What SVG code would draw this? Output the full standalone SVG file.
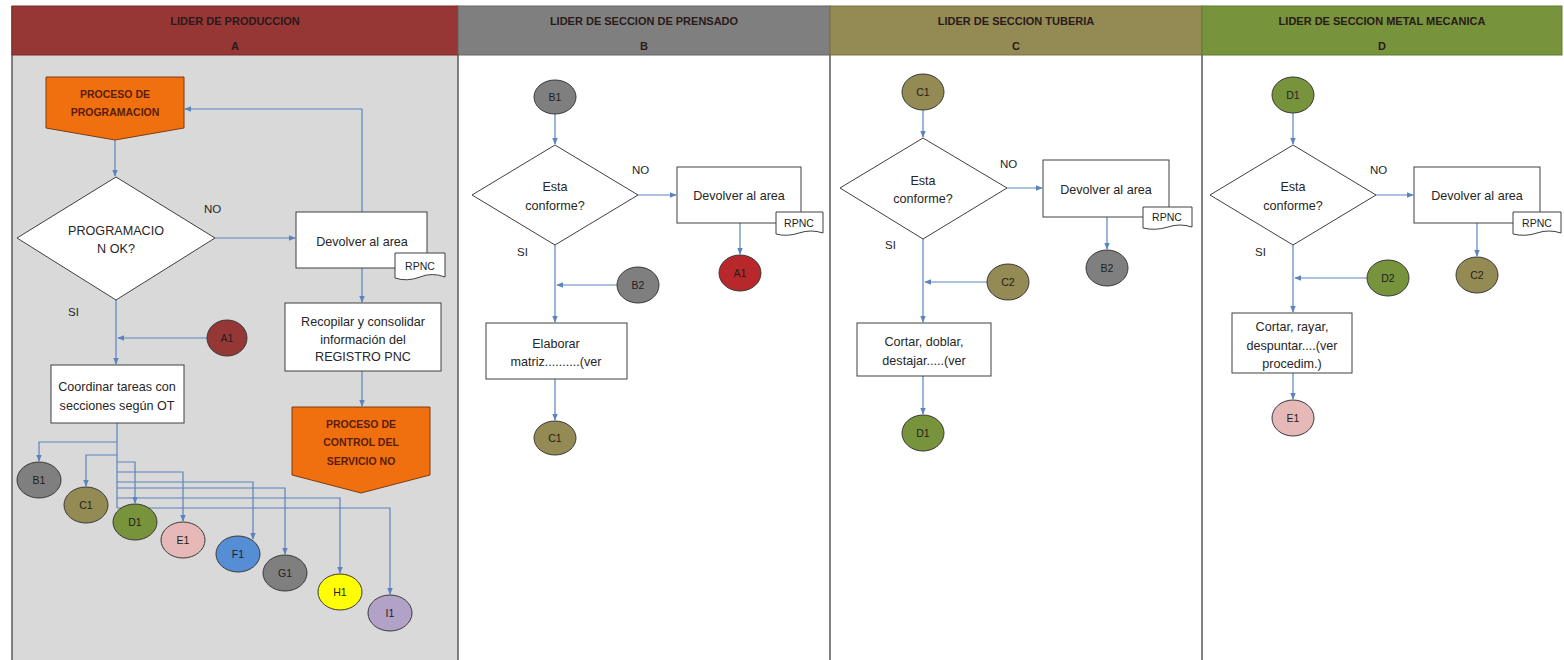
<svg xmlns="http://www.w3.org/2000/svg" width="1564" height="660" viewBox="0 0 1564 660">
  <style>
    .hdr-t { font-family: "Liberation Sans", Arial, sans-serif; font-size: 11px; font-weight: bold; fill: #2a1a1a; text-anchor: middle; }
    .box { fill: #ffffff; stroke: #404040; stroke-width: 1; }
    .dec { fill: #ffffff; stroke: #404040; stroke-width: 1; }
    .off { fill: #f0700f; stroke: #7f3a10; stroke-width: 1; }
    .off-t { font-family: "Liberation Sans", Arial, sans-serif; font-size: 10.5px; font-weight: bold; fill: #5a1c08; text-anchor: middle; }
    .t { font-family: "Liberation Sans", Arial, sans-serif; font-size: 12.6px; fill: #262626; text-anchor: middle; }
    .lbl { font-family: "Liberation Sans", Arial, sans-serif; font-size: 11.5px; fill: #262626; }
    .ct { font-family: "Liberation Sans", Arial, sans-serif; font-size: 10.5px; fill: #1e1e1e; text-anchor: middle; }
    .cir { stroke: #3a3a3a; stroke-width: 1; }
    .doc { fill: #ffffff; stroke: #404040; stroke-width: 1; }
    .conn path { fill: none; stroke: #5b83bd; stroke-width: 1.2; }
    .lane { stroke: #5a5a5a; stroke-width: 1.5; }
  </style>
  <defs>
    <marker id="arr" viewBox="0 0 10 10" refX="9" refY="5" markerWidth="6" markerHeight="6" orient="auto-start-reverse">
      <path d="M0,1 L10,5 L0,9 Z" fill="#5b83bd"/>
    </marker>
  </defs>

  <rect width="1564" height="660" fill="#ffffff"/>

  <!-- swimlane bodies -->
  <g id="lanes">
    <rect x="12" y="55" width="446" height="605" fill="#d9d9d9"/>
    <rect x="458" y="55" width="372" height="605" fill="#ffffff"/>
    <rect x="830" y="55" width="372" height="605" fill="#ffffff"/>
    <rect x="1202" y="55" width="360" height="605" fill="#ffffff"/>
    <line class="lane" x1="12" y1="6" x2="12" y2="660"/>
    <line class="lane" x1="458" y1="6" x2="458" y2="660"/>
    <line class="lane" x1="830" y1="6" x2="830" y2="660"/>
    <line class="lane" x1="1202" y1="6" x2="1202" y2="660"/>
  </g>

  <!-- lane headers -->
  <g id="header-a">
    <rect x="12" y="6" width="446" height="49" fill="#963735" stroke="#7a2b2a"/>
    <text class="hdr-t" x="235" y="25">LIDER DE PRODUCCION</text>
    <text class="hdr-t" x="235" y="50">A</text>
  </g>
  <g id="header-b">
    <rect x="458" y="6" width="372" height="49" fill="#7f7f7f" stroke="#666"/>
    <text class="hdr-t" x="644" y="25">LIDER DE SECCION DE PRENSADO</text>
    <text class="hdr-t" x="644" y="50">B</text>
  </g>
  <g id="header-c">
    <rect x="830" y="6" width="372" height="49" fill="#948a54" stroke="#7a7244"/>
    <text class="hdr-t" x="1016" y="25">LIDER DE SECCION TUBERIA</text>
    <text class="hdr-t" x="1016" y="50">C</text>
  </g>
  <g id="header-d">
    <rect x="1202" y="6" width="360" height="49" fill="#77933c" stroke="#5f7a30"/>
    <text class="hdr-t" x="1382" y="25">LIDER DE SECCION METAL MECANICA</text>
    <text class="hdr-t" x="1382" y="50">D</text>
  </g>

  <!-- connectors -->
  <g id="connectors" class="conn">
    <!-- lane A -->
    <path d="M115,140 V176" marker-end="url(#arr)"/>
    <path d="M215,238 H295" marker-end="url(#arr)"/>
    <path d="M362,212 V109 H185" marker-end="url(#arr)"/>
    <path d="M362,268 V302" marker-end="url(#arr)"/>
    <path d="M362,371 V406" marker-end="url(#arr)"/>
    <path d="M116,300 V364" marker-end="url(#arr)"/>
    <path d="M207,338 H118" marker-end="url(#arr)"/>
    <path d="M117,423 V508"/>
    <path d="M117,442 H39 V461" marker-end="url(#arr)"/>
    <path d="M117,455 H86 V486" marker-end="url(#arr)"/>
    <path d="M117,462 H135 V503" marker-end="url(#arr)"/>
    <path d="M117,472 H183 V521" marker-end="url(#arr)"/>
    <path d="M117,482 H253 V539" marker-end="url(#arr)"/>
    <path d="M117,488 H285 V554" marker-end="url(#arr)"/>
    <path d="M117,498 H340 V573" marker-end="url(#arr)"/>
    <path d="M117,508 H390 V594" marker-end="url(#arr)"/>
    <!-- lane B -->
    <path d="M555,114 V144" marker-end="url(#arr)"/>
    <path d="M638,195 H676" marker-end="url(#arr)"/>
    <path d="M740,223 V254" marker-end="url(#arr)"/>
    <path d="M555,245 V322" marker-end="url(#arr)"/>
    <path d="M617,285 H557" marker-end="url(#arr)"/>
    <path d="M555,379 V420" marker-end="url(#arr)"/>
    <!-- lane C -->
    <path d="M923,110 V137" marker-end="url(#arr)"/>
    <path d="M1007,188 H1042" marker-end="url(#arr)"/>
    <path d="M1107,217 V249" marker-end="url(#arr)"/>
    <path d="M923,239 V322" marker-end="url(#arr)"/>
    <path d="M987,282 H925" marker-end="url(#arr)"/>
    <path d="M923,376 V414" marker-end="url(#arr)"/>
    <!-- lane D -->
    <path d="M1293,113 V144" marker-end="url(#arr)"/>
    <path d="M1376,195 H1413" marker-end="url(#arr)"/>
    <path d="M1477,223 V256" marker-end="url(#arr)"/>
    <path d="M1293,245 V312" marker-end="url(#arr)"/>
    <path d="M1367,278 H1295" marker-end="url(#arr)"/>
    <path d="M1293,373 V399" marker-end="url(#arr)"/>
  </g>

  <!-- ===== Lane A ===== -->
  <g id="proceso-programacion">
    <path class="off" d="M46,77 H184 V128 L115,140 L46,128 Z"/>
    <text class="off-t" x="115" y="98">PROCESO DE</text>
    <text class="off-t" x="115" y="116">PROGRAMACION</text>
  </g>
  <g id="programacion-ok">
    <path class="dec" d="M116,177 L215,238 L116,300 L17,238 Z"/>
    <text class="t" x="116" y="235">PROGRAMACIO</text>
    <text class="t" x="116" y="253">N OK?</text>
  </g>
  <text class="lbl" x="204" y="213">NO</text>
  <text class="lbl" x="68" y="316">SI</text>
  <g id="devolver-a">
    <rect class="box" x="296" y="212" width="131" height="56"/>
    <text class="t" x="362" y="246">Devolver al area</text>
  </g>
  <g id="rpnc-a">
    <path class="doc" d="M395,253 H445 V277 Q432,272 420,277 Q407,282 395,278 Z"/>
    <text class="ct" x="420" y="270">RPNC</text>
  </g>
  <g id="recopilar">
    <rect class="box" x="285" y="303" width="156" height="68"/>
    <text class="t" x="363" y="326">Recopilar y consolidar</text>
    <text class="t" x="363" y="344">información del</text>
    <text class="t" x="363" y="361">REGISTRO PNC</text>
  </g>
  <g id="proceso-control">
    <path class="off" d="M292,407 H430 V475 L361,493 L292,475 Z"/>
    <text class="off-t" x="361" y="428">PROCESO DE</text>
    <text class="off-t" x="361" y="446">CONTROL DEL</text>
    <text class="off-t" x="361" y="465">SERVICIO NO</text>
  </g>
  <g id="a1-in">
    <ellipse class="cir" cx="227" cy="338" rx="20" ry="18" fill="#953735"/>
    <text class="ct" x="227" y="342">A1</text>
  </g>
  <g id="coordinar">
    <rect class="box" x="51" y="365" width="133" height="58"/>
    <text class="t" x="117" y="391">Coordinar tareas con</text>
    <text class="t" x="117" y="410">secciones según OT</text>
  </g>
  <g id="b1-out">
    <ellipse class="cir" cx="39" cy="480" rx="22" ry="18" fill="#7f7f7f"/>
    <text class="ct" x="39" y="484">B1</text>
  </g>
  <g id="c1-out">
    <ellipse class="cir" cx="86" cy="505" rx="22" ry="18" fill="#948a54"/>
    <text class="ct" x="86" y="509">C1</text>
  </g>
  <g id="d1-out">
    <ellipse class="cir" cx="135" cy="522" rx="22" ry="18" fill="#77933c"/>
    <text class="ct" x="135" y="526">D1</text>
  </g>
  <g id="e1-out">
    <ellipse class="cir" cx="183" cy="540" rx="22" ry="18" fill="#e6b9b8"/>
    <text class="ct" x="183" y="544">E1</text>
  </g>
  <g id="f1-out">
    <ellipse class="cir" cx="238" cy="554" rx="22" ry="18" fill="#558ed5"/>
    <text class="ct" x="238" y="558">F1</text>
  </g>
  <g id="g1-out">
    <ellipse class="cir" cx="285" cy="573" rx="22" ry="18" fill="#7f7f7f"/>
    <text class="ct" x="285" y="577">G1</text>
  </g>
  <g id="h1-out">
    <ellipse class="cir" cx="340" cy="592" rx="22" ry="18" fill="#ffff00"/>
    <text class="ct" x="340" y="596">H1</text>
  </g>
  <g id="i1-out">
    <ellipse class="cir" cx="390" cy="613" rx="22" ry="18" fill="#b3a2c7"/>
    <text class="ct" x="390" y="617">I1</text>
  </g>

  <!-- ===== Lane B ===== -->
  <g id="b1-in">
    <ellipse class="cir" cx="555" cy="97" rx="21" ry="17" fill="#7f7f7f"/>
    <text class="ct" x="555" y="101">B1</text>
  </g>
  <g id="conforme-b">
    <path class="dec" d="M555,145 L638,195 L555,245 L472,195 Z"/>
    <text class="t" x="555" y="191">Esta</text>
    <text class="t" x="555" y="210">conforme?</text>
  </g>
  <text class="lbl" x="632" y="174">NO</text>
  <text class="lbl" x="517" y="256">SI</text>
  <g id="devolver-b">
    <rect class="box" x="677" y="167" width="124" height="56"/>
    <text class="t" x="739" y="200">Devolver al area</text>
  </g>
  <g id="rpnc-b">
    <path class="doc" d="M776,212 H823 V233 Q811,229 799,233 Q787,237 776,234 Z"/>
    <text class="ct" x="799" y="227">RPNC</text>
  </g>
  <g id="a1-out">
    <ellipse class="cir" cx="740" cy="273" rx="21" ry="18" fill="#b8282a"/>
    <text class="ct" x="740" y="277">A1</text>
  </g>
  <g id="b2-in">
    <ellipse class="cir" cx="638" cy="285" rx="21" ry="18" fill="#7f7f7f"/>
    <text class="ct" x="638" y="289">B2</text>
  </g>
  <g id="elaborar">
    <rect class="box" x="486" y="323" width="141" height="56"/>
    <text class="t" x="556" y="348">Elaborar</text>
    <text class="t" x="556" y="366">matriz..........(ver</text>
  </g>
  <g id="c1-b">
    <ellipse class="cir" cx="555" cy="438" rx="21" ry="17" fill="#948a54"/>
    <text class="ct" x="555" y="442">C1</text>
  </g>

  <!-- ===== Lane C ===== -->
  <g id="c1-in">
    <ellipse class="cir" cx="923" cy="92" rx="21" ry="18" fill="#948a54"/>
    <text class="ct" x="923" y="96">C1</text>
  </g>
  <g id="conforme-c">
    <path class="dec" d="M923,138 L1007,188 L923,239 L840,188 Z"/>
    <text class="t" x="923" y="185">Esta</text>
    <text class="t" x="923" y="203">conforme?</text>
  </g>
  <text class="lbl" x="1000" y="168">NO</text>
  <text class="lbl" x="885" y="249">SI</text>
  <g id="devolver-c">
    <rect class="box" x="1043" y="160" width="126" height="57"/>
    <text class="t" x="1106" y="194">Devolver al area</text>
  </g>
  <g id="rpnc-c">
    <path class="doc" d="M1143,207 H1192 V227 Q1180,223 1168,227 Q1155,231 1143,228 Z"/>
    <text class="ct" x="1167" y="221">RPNC</text>
  </g>
  <g id="b2-out">
    <ellipse class="cir" cx="1107" cy="268" rx="21" ry="18" fill="#7f7f7f"/>
    <text class="ct" x="1107" y="272">B2</text>
  </g>
  <g id="c2-in">
    <ellipse class="cir" cx="1008" cy="282" rx="21" ry="18" fill="#948a54"/>
    <text class="ct" x="1008" y="286">C2</text>
  </g>
  <g id="cortar-doblar">
    <rect class="box" x="857" y="323" width="134" height="53"/>
    <text class="t" x="924" y="346">Cortar, doblar,</text>
    <text class="t" x="924" y="365">destajar.....(ver</text>
  </g>
  <g id="d1-c">
    <ellipse class="cir" cx="923" cy="433" rx="21" ry="18" fill="#77933c"/>
    <text class="ct" x="923" y="437">D1</text>
  </g>

  <!-- ===== Lane D ===== -->
  <g id="d1-in">
    <ellipse class="cir" cx="1293" cy="95" rx="21" ry="18" fill="#77933c"/>
    <text class="ct" x="1293" y="99">D1</text>
  </g>
  <g id="conforme-d">
    <path class="dec" d="M1293,145 L1376,195 L1293,245 L1210,195 Z"/>
    <text class="t" x="1293" y="191">Esta</text>
    <text class="t" x="1293" y="210">conforme?</text>
  </g>
  <text class="lbl" x="1370" y="174">NO</text>
  <text class="lbl" x="1255" y="256">SI</text>
  <g id="devolver-d">
    <rect class="box" x="1414" y="167" width="126" height="56"/>
    <text class="t" x="1477" y="200">Devolver al area</text>
  </g>
  <g id="rpnc-d">
    <path class="doc" d="M1513,212 H1561 V233 Q1549,229 1537,233 Q1525,237 1513,234 Z"/>
    <text class="ct" x="1537" y="227">RPNC</text>
  </g>
  <g id="c2-out">
    <ellipse class="cir" cx="1477" cy="275" rx="21" ry="18" fill="#948a54"/>
    <text class="ct" x="1477" y="279">C2</text>
  </g>
  <g id="d2-in">
    <ellipse class="cir" cx="1388" cy="278" rx="21" ry="18" fill="#77933c"/>
    <text class="ct" x="1388" y="282">D2</text>
  </g>
  <g id="cortar-rayar">
    <rect class="box" x="1232" y="313" width="120" height="60"/>
    <text class="t" x="1292" y="331">Cortar, rayar,</text>
    <text class="t" x="1292" y="350">despuntar....(ver</text>
    <text class="t" x="1292" y="368">procedim.)</text>
  </g>
  <g id="e1-d">
    <ellipse class="cir" cx="1293" cy="418" rx="21" ry="18" fill="#e6b9b8"/>
    <text class="ct" x="1293" y="422">E1</text>
  </g>
</svg>
